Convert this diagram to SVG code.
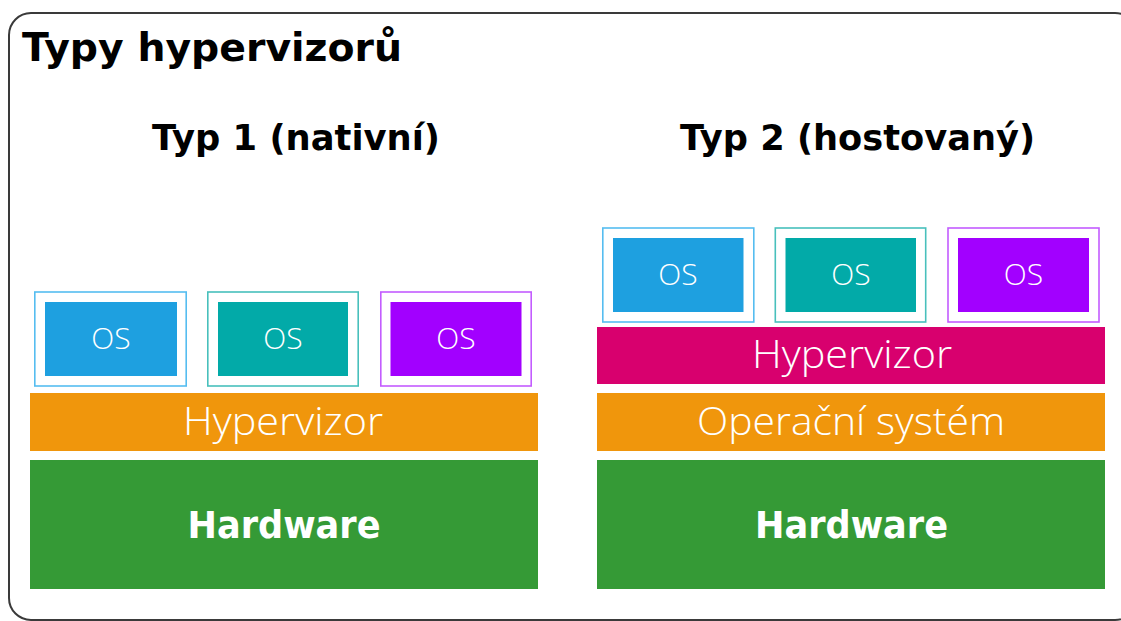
<svg xmlns="http://www.w3.org/2000/svg" width="1121" height="621" viewBox="0 0 1121 621">
  <style>
    .frame { fill: #ffffff; stroke: #3a3a3a; stroke-width: 2; }
    .title { font-family: "DejaVu Sans", "Liberation Sans", sans-serif; font-weight: bold; fill: #000000; }
    .lbl { font-family: "Open Sans", "Liberation Sans", sans-serif; font-weight: 350; fill: #ffffff; text-anchor: middle; }
    .hw { font-family: "DejaVu Sans", "Liberation Sans", sans-serif; font-weight: bold; fill: #ffffff; text-anchor: middle; font-size: 37px; }
    .os-lbl { font-size: 30px; }
    .bar-lbl { font-size: 39px; }
    .shell { fill: #ffffff; stroke-width: 1.6; }
    .blue .shell { stroke: #55bdf0; }
    .blue .core { fill: #1ea0e0; }
    .teal .shell { stroke: #48c0bc; }
    .teal .core { fill: #02aaa8; }
    .violet .shell { stroke: #c35cff; }
    .violet .core { fill: #a200ff; }
    .orange { fill: #f0960c; }
    .green { fill: #359a36; }
    .magenta { fill: #d8006e; }
  </style>

  <!-- outer frame, running past the right and bottom edges -->
  <rect class="frame" x="9" y="13" width="1128" height="607" rx="22" ry="22"/>

  <text class="title" x="22" y="61" font-size="39" textLength="380" lengthAdjust="spacingAndGlyphs">Typy hypervizorů</text>

  <!-- Type 1: bare-metal -->
  <g id="type1">
    <text class="title" x="152" y="150" font-size="35" textLength="288" lengthAdjust="spacingAndGlyphs">Typ 1 (nativní)</text>

    <g id="t1-os1" class="blue">
      <rect class="shell" x="34.8" y="292" width="151.4" height="94"/>
      <rect class="core" x="45" y="302" width="132" height="74"/>
      <text class="lbl os-lbl" x="111" y="349">OS</text>
    </g>
    <g id="t1-os2" class="teal">
      <rect class="shell" x="207.8" y="292" width="150.4" height="94"/>
      <rect class="core" x="218" y="302" width="130" height="74"/>
      <text class="lbl os-lbl" x="283" y="349">OS</text>
    </g>
    <g id="t1-os3" class="violet">
      <rect class="shell" x="380.8" y="292" width="150.4" height="94"/>
      <rect class="core" x="390.5" y="302" width="131" height="74"/>
      <text class="lbl os-lbl" x="456" y="349">OS</text>
    </g>

    <g id="t1-hypervisor">
      <rect class="orange" x="30" y="393" width="508" height="58"/>
      <text class="lbl bar-lbl" x="283" y="435" textLength="200" lengthAdjust="spacingAndGlyphs">Hypervizor</text>
    </g>

    <g id="t1-hardware">
      <rect class="green" x="30" y="460" width="508" height="129"/>
      <text class="hw" x="284" y="538" textLength="193" lengthAdjust="spacingAndGlyphs">Hardware</text>
    </g>
  </g>

  <!-- Type 2: hosted -->
  <g id="type2">
    <text class="title" x="680" y="150" font-size="35" textLength="355" lengthAdjust="spacingAndGlyphs">Typ 2 (hostovaný)</text>

    <g id="t2-os1" class="blue">
      <rect class="shell" x="602.8" y="228" width="151" height="94"/>
      <rect class="core" x="613" y="238" width="130.5" height="74"/>
      <text class="lbl os-lbl" x="678" y="285">OS</text>
    </g>
    <g id="t2-os2" class="teal">
      <rect class="shell" x="775.3" y="228" width="150.4" height="94"/>
      <rect class="core" x="785.5" y="238" width="130.5" height="74"/>
      <text class="lbl os-lbl" x="851" y="285">OS</text>
    </g>
    <g id="t2-os3" class="violet">
      <rect class="shell" x="948" y="228" width="151" height="94"/>
      <rect class="core" x="958" y="238" width="131" height="74"/>
      <text class="lbl os-lbl" x="1023.5" y="285">OS</text>
    </g>

    <g id="t2-hypervisor">
      <rect class="magenta" x="597" y="327" width="508" height="57"/>
      <text class="lbl bar-lbl" x="852" y="368" textLength="200" lengthAdjust="spacingAndGlyphs">Hypervizor</text>
    </g>

    <g id="t2-os-host">
      <rect class="orange" x="597" y="393" width="508" height="58"/>
      <text class="lbl bar-lbl" x="851" y="435" textLength="308" lengthAdjust="spacingAndGlyphs">Operační systém</text>
    </g>

    <g id="t2-hardware">
      <rect class="green" x="597" y="460" width="508" height="129"/>
      <text class="hw" x="851.5" y="538" textLength="193" lengthAdjust="spacingAndGlyphs">Hardware</text>
    </g>
  </g>

  <!-- no connectors in this diagram -->
  <g id="connectors"/>
</svg>
